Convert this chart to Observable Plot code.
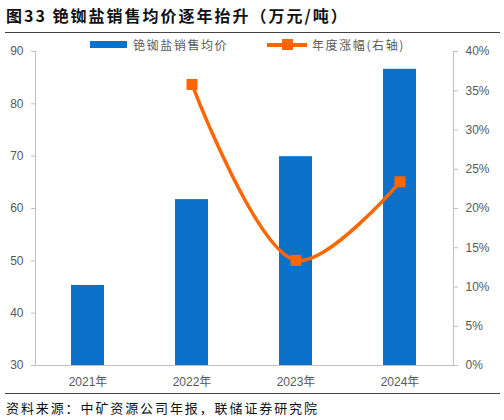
<!DOCTYPE html>
<html><head><meta charset="utf-8">
<script src="https://cdn.jsdelivr.net/npm/d3@7"></script>
<script src="https://cdn.jsdelivr.net/npm/@observablehq/plot@0.6"></script>
<style>
body{margin:0;background:#fff;}
#wrap{position:relative;width:504px;height:420px;overflow:hidden;font-family:"Liberation Sans","Noto Sans CJK SC",sans-serif;}
#title{position:absolute;left:6px;top:3px;font-family:"Noto Sans CJK SC",sans-serif;font-weight:bold;font-size:16px;color:#111;letter-spacing:2px;white-space:nowrap;}
#rule1{position:absolute;left:5px;top:32px;width:495px;height:1px;background:#444;}
#chart{position:absolute;left:0;top:33px;}
#rule2{position:absolute;left:5px;top:393px;width:495px;height:1px;background:#444;}
#source{position:absolute;left:6px;top:398px;font-family:"Noto Sans CJK SC",sans-serif;font-size:13px;color:#111;letter-spacing:1.9px;white-space:nowrap;}
.lg{position:absolute;font-family:"Noto Sans CJK SC",sans-serif;font-size:12px;color:#595959;letter-spacing:1.6px;white-space:nowrap;}
#chart svg [aria-label="y-axis tick"]{stroke:#BFBFBF;}
</style></head><body>
<div id="wrap">
 <div id="title">图33 铯铷盐销售均价逐年抬升（万元/吨）</div>
 <div id="rule1"></div>
 <div id="chart"></div>
 <div style="position:absolute;left:90px;top:41px;width:37px;height:7px;background:#0A70C8"></div>
 <div class="lg" style="left:133px;top:36px">铯铷盐销售均价</div>
 <div style="position:absolute;left:267px;top:43px;width:40px;height:4px;background:#FF6600"></div>
 <div style="position:absolute;left:282px;top:39px;width:11px;height:11px;background:#FF6600"></div>
 <div class="lg" style="left:312px;top:36px">年度涨幅(右轴)</div>
 <div id="rule2"></div>
 <div id="source">资料来源：中矿资源公司年报，联储证券研究院</div>
</div>
<script>
const years = ["2021年", "2022年", "2023年", "2024年"];
const prices = [45.3, 61.7, 69.9, 86.6];
const growth = [null, 35.8, 13.4, 23.4];
const leftTicks = [30, 40, 50, 60, 70, 80, 90];
const rightTicks = [0, 5, 10, 15, 20, 25, 30, 35, 40];

const yMin = 30, yMax = 90, pMax = 40;
const toY = p => yMin + p * (yMax - yMin) / pMax;
const toP = v => (v - yMin) * pMax / (yMax - yMin);

const bars = years.map((year, i) => ({year, price: prices[i]}));
const pts = years.map((year, i) => ({year, g: growth[i]})).filter(d => d.g != null);

const chart = Plot.plot({
  width: 504, height: 357,
  marginTop: 18, marginBottom: 25, marginLeft: 35, marginRight: 51,
  x: {type: "band", domain: years, paddingInner: 0.68, paddingOuter: 0.34},
  y: {domain: [yMin, yMax]},
  style: {fontSize: "12px", fontFamily: '"Liberation Sans","Noto Sans CJK SC",sans-serif', color: "#595959", background: "transparent"},
  marks: [
    Plot.barY(bars, {x: "year", y1: yMin, y2: "price", fill: "#0A70C8"}),
    Plot.frame({anchor: "left", stroke: "#BFBFBF"}),
    Plot.frame({anchor: "right", stroke: "#BFBFBF"}),
    Plot.frame({anchor: "bottom", stroke: "#BFBFBF"}),
    Plot.axisY(leftTicks, {anchor: "left", tickSize: 4, tickPadding: 8, label: null}),
    Plot.axisY(rightTicks.map(toY), {anchor: "right", tickSize: 4, tickPadding: 8, label: null,
      tickFormat: v => Math.round(toP(v)) + "%"}),
    Plot.axisX({tickSize: 0, tickPadding: 12, label: null}),
    Plot.line(pts, {x: "year", y: d => toY(d.g), stroke: "#FF6600", strokeWidth: 3.5, curve: "catmull-rom"}),
    Plot.dot(pts, {x: "year", y: d => toY(d.g), symbol: "square", r: 6.2, fill: "#FF6600", stroke: "none"})
  ]
});
document.getElementById("chart").appendChild(chart);
</script>
</body></html>
